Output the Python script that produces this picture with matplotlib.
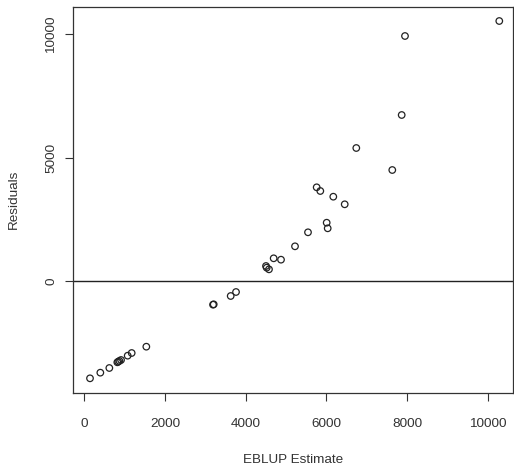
import matplotlib
matplotlib.use("Agg")
import matplotlib.pyplot as plt

plt.rcParams['font.family'] = ['Liberation Sans', 'DejaVu Sans']

eblup = [10285, 7948, 7866, 6741, 7633, 5759, 5849, 6171, 6454, 6007, 6032,
         5544, 5222, 4693, 4875, 4503, 4520, 4577, 3207, 3190, 3628, 3760,
         1537, 1174, 1075, 910, 870, 840, 818, 620, 397, 141]
resid = [10539, 9931, 6729, 5391, 4499, 3798, 3648, 3417, 3109, 2363, 2136,
         1974, 1406, 920, 864, 608, 540, 473, -946, -960, -608, -446,
         -2663, -2919, -3027, -3202, -3240, -3270, -3296, -3527, -3716, -3945]
xticks = [0, 2000, 4000, 6000, 8000, 10000]
yticks = [0, 5000, 10000]

fig = plt.figure(figsize=(5.14, 4.69), dpi=100)
ax = fig.add_axes([73.3/514, 1-392.7/469, (513-73.3)/514, (392.7-6.7)/469])
tc = '#333333'
ax.scatter(eblup, resid, s=22, facecolors='none', edgecolors='#222222', linewidths=0.9, zorder=3)
ax.axhline(0, color='#222222', linewidth=1.0)
ax.set_xlim(-273, 10625)
ax.set_ylim(-4528, 11119)
ax.set_xticks(xticks)
ax.set_yticks(yticks)
ax.set_xticklabels([str(v) for v in xticks])
ax.set_yticklabels([str(v) for v in yticks], rotation=90, va='center')
ax.tick_params(axis='both', length=6, width=0.8, color='#333333', labelcolor=tc, labelsize=9.7)
ax.tick_params(axis='x', pad=12)
ax.tick_params(axis='y', pad=5.6)
for s in ax.spines.values():
    s.set_color('#333333')
    s.set_linewidth(0.9)
ax.set_xlabel('EBLUP Estimate', fontsize=9.7, color=tc, labelpad=17.3)
ax.set_ylabel('Residuals', fontsize=9.7, color=tc, labelpad=18.3)
fig.savefig('out.png', dpi=100)
